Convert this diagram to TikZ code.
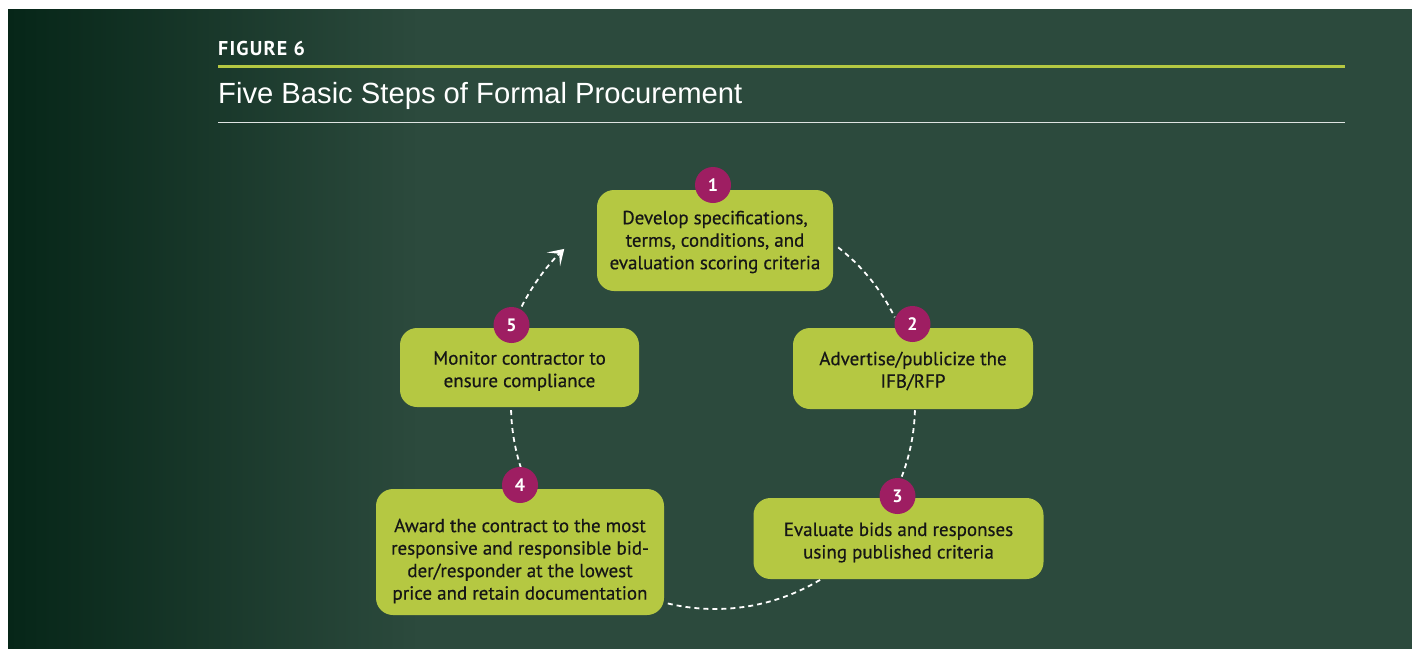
\documentclass[tikz,border=0pt]{standalone}
\usepackage{fontspec}
\setmainfont{PT Sans}
\newfontfamily\boxfont{PT Sans}[FakeBold=0.5]
\newfontfamily\figfont{PT Sans}[LetterSpace=6]
\newfontfamily\titlefont{Liberation Sans}
\usetikzlibrary{arrows.meta}
\definecolor{bgbase}{RGB}{44,74,61}
\definecolor{bgmid}{RGB}{32,60,47}
\definecolor{bgdark}{RGB}{6,38,24}
\definecolor{lime}{RGB}{181,200,66}
\definecolor{berry}{RGB}{158,30,98}
\definecolor{txt}{RGB}{22,22,22}
\begin{document}
\begin{tikzpicture}[x=1pt,y=-1pt,
  stepbox/.style={fill=lime, rounded corners=17pt, inner sep=0pt},
  steptext/.style={text=txt, align=center, font=\boxfont\fontsize{19}{22.5}\selectfont, inner sep=0pt},
  badge/.style={circle, fill=berry, minimum size=36pt, inner sep=0pt, text=white, font=\bfseries\fontsize{18}{18}\selectfont},
  conn/.style={draw=white, line width=1.8pt, dash pattern=on 5pt off 4pt},
]
\useasboundingbox (0,0) rectangle (1412,648);
\fill[white] (0,0) rectangle (1412,648);
\begin{scope}
\clip (8,9) rectangle (1412,648);
\fill[bgbase] (0,0) rectangle (1412,660);
\shade[left color=bgdark, middle color=bgmid, right color=bgbase] (8,0) rectangle (420,660);
\end{scope}

% header
\node[anchor=base west, text=white, inner sep=0pt, font=\figfont\bfseries\fontsize{20}{20}\selectfont] (fig) at (218,55) {FIGURE 6};
\draw[lime, line width=2.7pt] (218,66.3) -- (1345,66.3);
\node[anchor=base west, text=white, inner sep=0pt, font=\titlefont\fontsize{29.2}{29.2}\selectfont] (title) at (218,103.5) {Five Basic Steps of Formal Procurement};
\draw[white!85!bgbase, line width=1.3pt] (218,122.5) -- (1345,122.5);

% connectors (circle around O)
\coordinate (O) at (715,405);
\path (O) ++(-52:200) coordinate (c12);
\path (O) ++(1.5:200) coordinate (c23);
\path (O) ++(59:204) coordinate (c34);
\path (O) ++(162:204) coordinate (c45);
\path (O) ++(-153:217) coordinate (c51);
\draw[conn] (c12) arc[start angle=-52, end angle=-26, radius=200];
\draw[conn] (c23) arc[start angle=1.5, end angle=21, radius=200];
\draw[conn] (c34) arc[start angle=59, end angle=104, radius=204];
\draw[conn] (c45) arc[start angle=162, end angle=179, radius=204];
\draw[conn, -{Stealth[length=15pt, width=19pt, inset=8pt]}] (c51) arc[start angle=-153, end angle=-134, radius=217];

% boxes
\node[stepbox, minimum width=236pt, minimum height=101pt] (b1) at (715,240.5) {};
\node[stepbox, minimum width=240pt, minimum height=81pt] (b2) at (913,368.5) {};
\node[stepbox, minimum width=290pt, minimum height=81pt] (b3) at (898.5,538.5) {};
\node[stepbox, minimum width=288pt, minimum height=126pt] (b4) at (520,552) {};
\node[stepbox, minimum width=239pt, minimum height=79pt] (b5) at (519.5,367.5) {};

\node[steptext] (t1) at (715,242) {Develop specifications,\\terms, conditions, and\\evaluation scoring criteria};
\node[steptext] (t2) at (913,371) {Advertise/publicize the\\IFB/RFP};
\node[steptext] (t3) at (898.5,542.5) {Evaluate bids and responses\\using published criteria};
\node[steptext] (t4) at (520,561) {Award the contract to the most\\responsive and responsible bid-\\der/responder at the lowest\\price and retain documentation};
\node[steptext] (t5) at (519.5,371) {Monitor contractor to\\ensure compliance};

% badges
\node[badge] (n1) at (713,185) {1};
\node[badge] (n2) at (912.5,324) {2};
\node[badge] (n3) at (897.5,496) {3};
\node[badge] (n4) at (520,485) {4};
\node[badge] (n5) at (511.5,325) {5};
\end{tikzpicture}
\end{document}
